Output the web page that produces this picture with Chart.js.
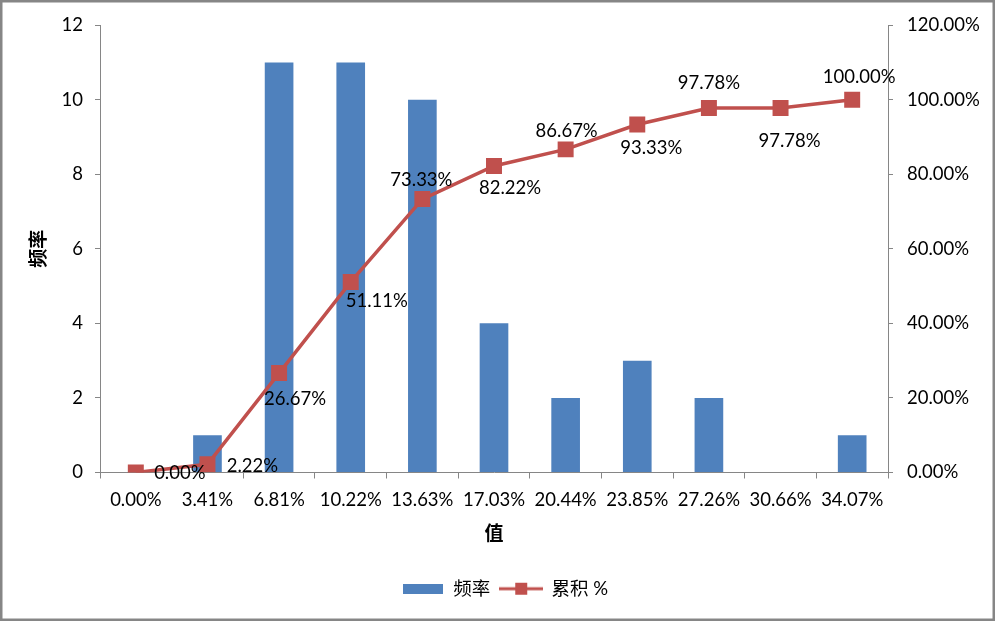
<!DOCTYPE html>
<html>
<head>
<meta charset="utf-8">
<script src="https://cdn.jsdelivr.net/npm/chart.js@4/dist/chart.umd.min.js"></script>
<style>
  html, body { margin: 0; padding: 0; background: #fff; }
</style>
</head>
<body>
<canvas id="chart" width="995" height="621"></canvas>
<script>
// histogram bins and counts
const categories = ['0.00%', '3.41%', '6.81%', '10.22%', '13.63%', '17.03%', '20.44%', '23.85%', '27.26%', '30.66%', '34.07%']
const frequency = [0, 1, 11, 11, 10, 4, 2, 3, 2, 0, 1]
const cumulative = [0, 2.22, 26.67, 51.11, 73.33, 82.22, 86.67, 93.33, 97.78, 97.78, 100]

// where each cumulative label sits relative to its point (dx, dy)
const labelOffsets = [[44, 1], [45, 2], [16, 26], [26, 19], [-1, -19], [16, 22], [1, -18], [14, 23], [0, -25], [9, 33], [7, -23]]

const BLUE = '#4F81BD'
const RED = '#C0504D'
const GREY = '#868686'
const FONT = 'Lato, "Noto Sans CJK SC", sans-serif'
const FS = 18.5

Chart.defaults.font.family = FONT
Chart.defaults.font.size = FS
Chart.defaults.color = '#000'

const pct = (v) => Number(v).toFixed(2) + '%'

// legend swatches
const barSwatch = document.createElement('canvas')
barSwatch.width = 40
barSwatch.height = 10
barSwatch.getContext('2d').fillStyle = BLUE
barSwatch.getContext('2d').fillRect(0, 0, 40, 10)

const lineSwatch = document.createElement('canvas')
lineSwatch.width = 44
lineSwatch.height = 14
{
  const c = lineSwatch.getContext('2d')
  c.strokeStyle = RED
  c.lineWidth = 3
  c.beginPath()
  c.moveTo(0, 7)
  c.lineTo(44, 7)
  c.stroke()
  c.fillStyle = RED
  c.fillRect(16, 1, 12, 12)
}

const frame = {
  id: 'frame',
  beforeDraw(chart) {
    const { ctx, width, height } = chart
    ctx.save()
    ctx.fillStyle = '#fff'
    ctx.fillRect(0, 0, width, height)
    ctx.restore()
  },
  afterDraw(chart) {
    const { ctx, width, height } = chart
    ctx.save()
    ctx.strokeStyle = GREY
    ctx.lineWidth = 3
    ctx.strokeRect(1, 1, width - 2, height - 2)
    ctx.restore()
  }
}

const pointLabels = {
  id: 'pointLabels',
  afterDatasetsDraw(chart) {
    const meta = chart.getDatasetMeta(1)
    const { ctx } = chart
    ctx.save()
    ctx.font = FS + 'px ' + FONT
    ctx.fillStyle = '#000'
    ctx.textAlign = 'center'
    ctx.textBaseline = 'middle'
    meta.data.forEach((pt, i) => {
      const [dx, dy] = labelOffsets[i]
      ctx.fillText(pct(cumulative[i]), pt.x + dx, pt.y + dy)
    })
    ctx.restore()
  }
}

const axisGrid = {
  display: true,
  drawOnChartArea: false,
  drawTicks: true,
  tickLength: 5,
  tickColor: GREY
}

new Chart(document.getElementById('chart'), {
  data: {
    labels: categories,
    datasets: [
      {
        type: 'bar',
        label: '频率',
        data: frequency,
        backgroundColor: BLUE,
        barPercentage: 0.4,
        categoryPercentage: 1,
        yAxisID: 'y',
        order: 1
      },
      {
        type: 'line',
        label: '累积 %',
        data: cumulative,
        borderColor: RED,
        borderWidth: 3.5,
        backgroundColor: RED,
        pointStyle: 'rect',
        pointRadius: 11.3,
        pointBorderWidth: 0,
        pointBackgroundColor: RED,
        tension: 0,
        yAxisID: 'y1',
        order: 0
      }
    ]
  },
  options: {
    responsive: false,
    animation: false,
    layout: { padding: { left: 20, right: 5, top: 24, bottom: 13 } },
    plugins: {
      tooltip: { enabled: false },
      legend: {
        position: 'bottom',
        labels: {
          usePointStyle: true,
          pointStyleWidth: 42,
          padding: 10,
          font: { size: FS },
          generateLabels: () => [
            { text: '频率', pointStyle: barSwatch, datasetIndex: 0, fillStyle: BLUE, strokeStyle: BLUE, lineWidth: 0 },
            { text: '累积 %', pointStyle: lineSwatch, datasetIndex: 1, fillStyle: RED, strokeStyle: RED, lineWidth: 0 }
          ]
        }
      }
    },
    scales: {
      x: {
        offset: true,
        grid: { ...axisGrid, offset: true, tickLength: 6 },
        border: { display: true, color: GREY },
        ticks: { autoSkip: false, maxRotation: 0, padding: 10 },
        title: { display: true, text: '值', font: { size: 19, weight: 'bold' }, padding: { top: 0, bottom: 24 } },
        afterFit: (s) => { s.height = 97 }
      },
      y: {
        position: 'left',
        min: 0,
        max: 12,
        ticks: { stepSize: 2, padding: 12 },
        grid: axisGrid,
        border: { display: true, color: GREY },
        title: { display: true, text: '频率', font: { size: 19, weight: 'bold' }, padding: { top: 7, bottom: 0 } },
        afterFit: (s) => { s.width = 80 }
      },
      y1: {
        position: 'right',
        min: 0,
        max: 120,
        ticks: { stepSize: 20, padding: 14, callback: (v) => pct(v) },
        grid: axisGrid,
        border: { display: true, color: GREY },
        afterFit: (s) => { s.width = 102 }
      }
    }
  },
  plugins: [frame, pointLabels]
})
</script>
</body>
</html>
